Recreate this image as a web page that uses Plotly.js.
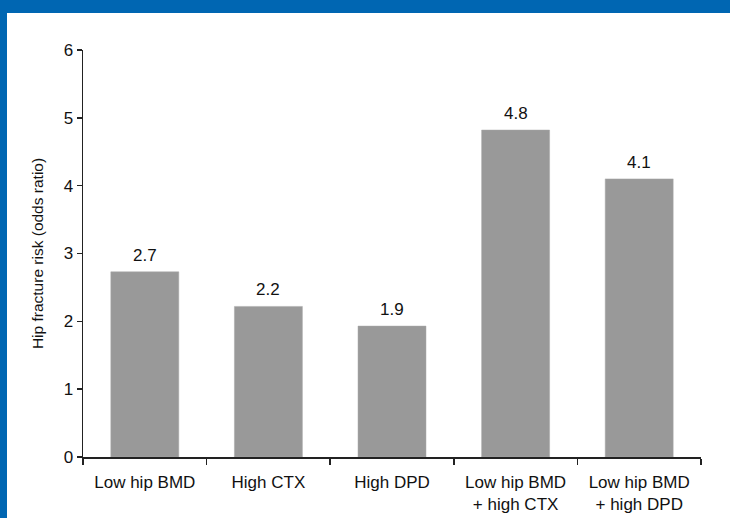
<!DOCTYPE html>
<html>
<head>
<meta charset="utf-8">
<script src="https://cdn.plot.ly/plotly-3.0.1.min.js"></script>
<style>
  html, body { margin: 0; padding: 0; background: #0066b2; width: 730px; height: 518px; overflow: hidden; }
  #chart { position: absolute; left: 7px; top: 13px; width: 723px; height: 505px; background: #fff; }
</style>
</head>
<body>
<div id="chart"></div>
<script>
const categories = ["Low hip BMD", "High CTX", "High DPD", "Low hip BMD<br>+ high CTX", "Low hip BMD<br>+ high DPD"];
const oddsRatios = [2.73, 2.22, 1.93, 4.82, 4.1];
const yTicks = [0, 1, 2, 3, 4, 5, 6];
const yTitle = "Hip fracture risk (odds ratio)";

const FONT = "Liberation Sans, Arial, Helvetica, sans-serif";

const trace = {
  type: "bar",
  x: categories,
  y: oddsRatios,
  width: 0.55,
  marker: { color: "#999999", line: { color: "#a8a8a8", width: 0.5 } },
  hoverinfo: "skip"
};

const annotations = categories.map((c, i) => ({
  x: c, y: oddsRatios[i], xref: "x", yref: "y",
  text: oddsRatios[i].toFixed(1),
  showarrow: false, yanchor: "bottom", yshift: 5,
  font: { family: FONT, size: 17, color: "#111" }
}));

const layout = {
  width: 723, height: 505,
  margin: { l: 76, r: 29, t: 37, b: 61 },
  paper_bgcolor: "#ffffff",
  plot_bgcolor: "#ffffff",
  showlegend: false,
  font: { family: FONT, size: 17, color: "#111" },
  annotations: annotations,
  xaxis: {
    range: [-0.5, 4.5],
    showline: true, linecolor: "#222", linewidth: 1.5,
    ticks: "outside", tickson: "boundaries", ticklen: 6, tickwidth: 1.5, tickcolor: "#222",
    ticklabelstandoff: 9,
    showgrid: false, zeroline: false,
    tickfont: { size: 17, color: "#111" }
  },
  yaxis: {
    range: [0, 6],
    tickvals: yTicks,
    showline: true, linecolor: "#222", linewidth: 1.5,
    ticks: "outside", ticklen: 5, tickwidth: 1.5, tickcolor: "#222",
    showgrid: false, zeroline: false,
    tickfont: { size: 17, color: "#111" },
    title: { text: yTitle, font: { size: 15.5, color: "#111" }, standoff: 16 }
  }
};

Plotly.newPlot("chart", [trace], layout, { displayModeBar: false, staticPlot: true });
</script>
</body>
</html>
